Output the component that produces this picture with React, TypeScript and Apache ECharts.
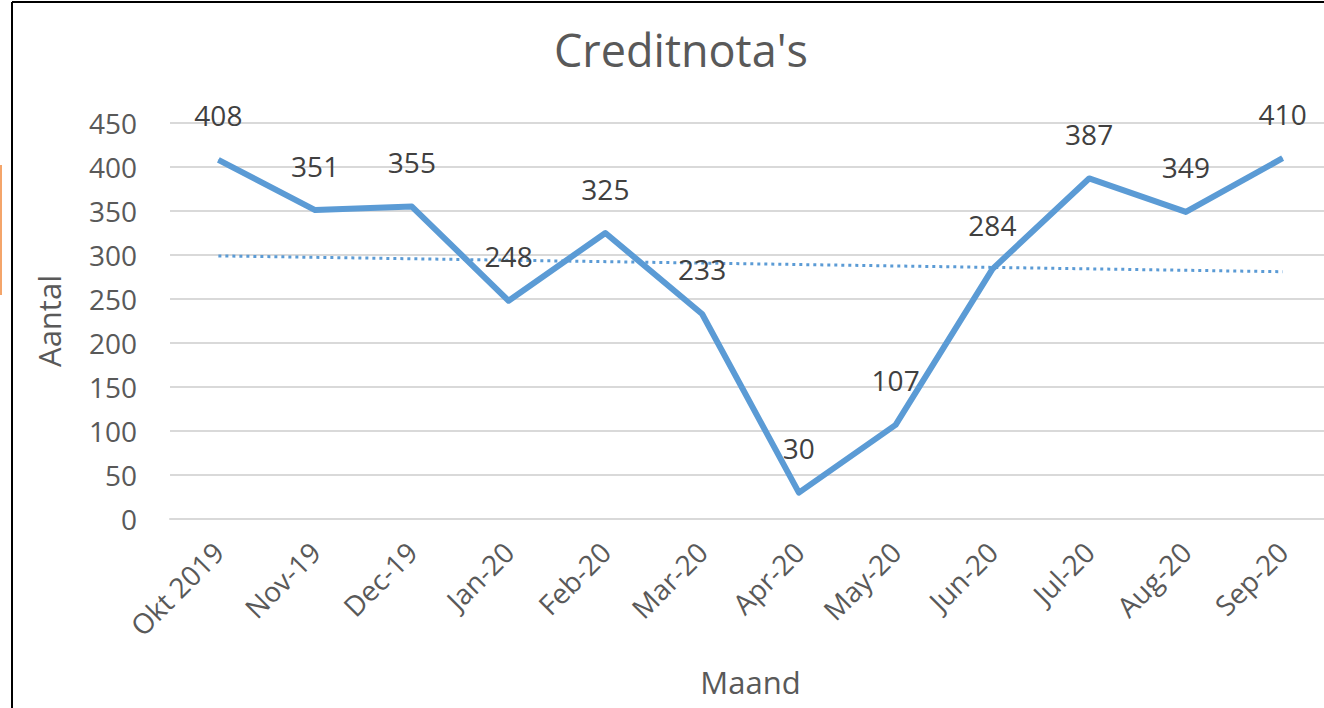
import React, { useEffect, useRef } from "react";
import * as echarts from "echarts";

const categories = ["Okt 2019", "Nov-19", "Dec-19", "Jan-20", "Feb-20", "Mar-20", "Apr-20", "May-20", "Jun-20", "Jul-20", "Aug-20", "Sep-20"];
const values = [408, 351, 355, 248, 325, 233, 30, 107, 284, 387, 349, 410];
const trendValues = [299, null, null, null, null, null, null, null, null, null, null, 281];
const yTicks = { min: 0, max: 450, interval: 50 };

const FONT = "'Open Sans', 'Noto Sans', sans-serif";

export default function App() {
  const ref = useRef<HTMLDivElement>(null);
  useEffect(() => {
    if (!ref.current) return;
    const chart = echarts.init(ref.current, null, { renderer: "svg" });
    chart.setOption({
      animation: false,
      backgroundColor: "#ffffff",
      title: {
        text: "Creditnota's",
        left: 676,
        top: 22,
        textAlign: "center",
        textStyle: { fontFamily: FONT, fontSize: 45, fontWeight: "normal", color: "#595959" },
      },
      grid: { left: 170, top: 123, width: 1161, height: 396, containLabel: false, outerBoundsMode: "none" },
      xAxis: {
        type: "category",
        data: categories,
        boundaryGap: true,
        axisLine: { show: true, lineStyle: { color: "#d9d9d9", width: 2 } },
        axisTick: { show: false },
        axisLabel: { rotate: 45, margin: 28, color: "#595959", fontFamily: FONT, fontSize: 28 },
        name: "Maand",
        nameLocation: "middle",
        nameGap: 147,
        nameTextStyle: { color: "#595959", fontFamily: FONT, fontSize: 31 },
      },
      yAxis: {
        type: "value",
        min: yTicks.min,
        max: yTicks.max,
        interval: yTicks.interval,
        axisLine: { show: false },
        axisTick: { show: false },
        splitLine: { lineStyle: { color: "#d9d9d9", width: 2 } },
        axisLabel: { margin: 33, color: "#595959", fontFamily: FONT, fontSize: 28 },
        name: "Aantal",
        nameLocation: "middle",
        nameGap: 106,
        nameTextStyle: { color: "#595959", fontFamily: FONT, fontSize: 31 },
      },
      series: [
        {
          type: "line",
          data: values,
          symbol: "circle",
          symbolSize: 1,
          showSymbol: true,
          itemStyle: { color: "#5b9bd5" },
          lineStyle: { color: "#5b9bd5", width: 6, join: "round" },
          label: {
            show: true,
            position: "top",
            distance: 30,
            color: "#404040",
            fontFamily: FONT,
            fontSize: 28,
          },
          labelLayout: { hideOverlap: false },
          z: 3,
        },
        {
          type: "line",
          data: trendValues,
          connectNulls: true,
          symbol: "none",
          lineStyle: { color: "#5b9bd5", width: 3, type: [3, 4] },
          z: 2,
        },
      ],
      graphic: [
        { type: "line", shape: { x1: 12, y1: 2, x2: 1324, y2: 2 }, style: { stroke: "#000", lineWidth: 2 } },
        { type: "line", shape: { x1: 12, y1: 2, x2: 12, y2: 708 }, style: { stroke: "#000", lineWidth: 2 } },
        { type: "rect", shape: { x: 0, y: 165, width: 2, height: 130 }, style: { fill: "#f4a56a" } },
      ],
    });
    return () => chart.dispose();
  }, []);
  return <div ref={ref} style={{ position: "fixed", left: 0, top: 0, width: 1324, height: 708 }} />;
}
